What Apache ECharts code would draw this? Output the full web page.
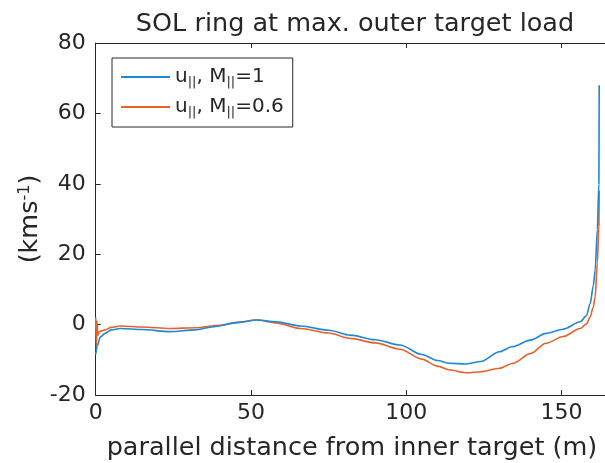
<!DOCTYPE html>
<html><head><meta charset="utf-8">
<script src="https://cdn.jsdelivr.net/npm/echarts@6/dist/echarts.min.js"></script>
<style>html,body{margin:0;padding:0;background:#fff;overflow:hidden}#c{width:605px;height:463px}</style>
</head><body><div id="c"></div>
<script>
const blueX = [0, 0.5, 1.5, 3, 5, 8, 15, 24, 32, 38, 45, 52, 58, 66, 75, 82, 90, 98, 105, 110, 114, 119, 124, 130, 134, 140, 145, 150.5, 156, 158, 159.2, 160.2, 160.8, 161.5, 162, 162.1];
const blueY = [-8.5, -6, -3.5, -2.5, -1.5, -1.1, -1.4, -2.0, -1.5, -0.6, 0.5, 1.3, 0.8, -0.4, -1.6, -3.0, -4.3, -5.8, -8.5, -10.2, -11.0, -11.2, -10.5, -7.7, -6.3, -4.4, -2.5, -1.3, 0.8, 2.5, 6, 11, 15.5, 27, 40, 68];
const orangeX = [0, 0.2, 0.4, 0.7, 1.2, 3, 5, 8, 15, 24, 32, 40, 46, 52, 58, 66, 75, 82, 90, 98, 105, 110, 114, 119.5, 124, 130, 134.4, 140, 145, 150.5, 156, 158, 159.2, 160.2, 160.8, 161.5, 162, 162.1];
const orangeY = [2, -7, 1, -3, -2, -1.5, -0.8, -0.4, -0.7, -1.1, -0.9, -0.2, 0.7, 1.3, 0.5, -1.1, -2.4, -3.9, -5.2, -7.0, -9.8, -11.8, -12.9, -13.7, -13.4, -12.4, -11.0, -8.2, -5.3, -3.4, -1.1, 0.2, 2.2, 5, 7.9, 17.5, 28, 38];
const seriesNames = ['u||, M||=1', 'u||, M||=0.6'];
const legendLabels = ['{n|u}{s|||}{n|, M}{s|||}{n|=1}', '{n|u}{s|||}{n|, M}{s|||}{n|=0.6}'];
const xTicks = [0, 50, 100, 150];
const yTicks = [-20, 0, 20, 40, 60, 80];

const zip = (xs, ys) => xs.map((x, i) => [x, ys[i]]);
const txt = '#262626';
const font = 'DejaVu Sans';
const chart = echarts.init(document.getElementById('c'), null, {renderer: 'canvas'});
chart.setOption({
  animation: false,
  textStyle: {fontFamily: font, color: txt},
  title: {
    text: 'SOL ring at max. outer target load',
    left: 350, top: 6, textAlign: 'center',
    textStyle: {fontFamily: font, fontSize: 25.5, fontWeight: 'normal', color: txt}
  },
  grid: {left: 95.7, top: 43, width: 512.5, height: 352, containLabel: false, outerBoundsMode: 'none'},
  legend: {
    orient: 'vertical', left: 112, top: 58,
    padding: [9, 9, 8, 9], itemGap: 8,
    borderColor: txt, borderWidth: 1, backgroundColor: '#fff',
    icon: 'rect', itemWidth: 49, itemHeight: 2,
    data: seriesNames,
    formatter: name => legendLabels[seriesNames.indexOf(name)],
    textStyle: {
      color: txt, fontFamily: font,
      rich: {
        n: {fontSize: 20, fontFamily: font, color: txt, lineHeight: 24},
        s: {fontSize: 13, fontFamily: font, color: txt, lineHeight: 24, verticalAlign: 'bottom', padding: [8, 0, 0, 0]}
      }
    }
  },
  xAxis: [{
    type: 'value', min: 0, max: 165, interval: 50,
    name: 'parallel distance from inner target (m)', nameLocation: 'middle', nameGap: 40,
    nameMoveOverlap: false,
    nameTextStyle: {fontFamily: font, fontSize: 25.5, color: txt},
    axisLine: {show: true, onZero: false, lineStyle: {color: txt, width: 1}},
    axisTick: {show: true, inside: true, length: 5, lineStyle: {color: txt}},
    axisLabel: {fontFamily: font, fontSize: 22, color: txt, margin: 7,
      formatter: v => xTicks.includes(v) ? String(v) : ''},
    splitLine: {show: false}
  }, {
    type: 'value', min: 0, max: 165, interval: 50, position: 'top',
    axisLine: {show: true, onZero: false, lineStyle: {color: txt, width: 1}},
    axisTick: {show: true, inside: true, length: 5, lineStyle: {color: txt}},
    axisLabel: {show: false}, splitLine: {show: false}
  }],
  yAxis: {
    type: 'value', min: -20, max: 80, interval: 20,
    name: '(kms{sup|-1})', nameLocation: 'middle', nameRotate: 90, nameGap: 51,
    nameMoveOverlap: false,
    nameTextStyle: {fontFamily: font, fontSize: 25.5, color: txt,
      rich: {sup: {fontSize: 16, fontFamily: font, color: txt, verticalAlign: 'top', padding: [0, 0, 12, 0]}}},
    axisLine: {show: true, onZero: false, lineStyle: {color: txt, width: 1}},
    axisTick: {show: true, inside: true, length: 5, lineStyle: {color: txt}},
    axisLabel: {fontFamily: font, fontSize: 22, color: txt, margin: 10,
      formatter: v => yTicks.includes(v) ? String(v) : ''},
    splitLine: {show: false}
  },
  series: [{
    name: seriesNames[0], type: 'line', data: zip(blueX, blueY),
    showSymbol: false, symbol: 'none', smooth: 0.3, smoothMonotone: 'x',
    lineStyle: {color: '#1f87d4', width: 1.6}, itemStyle: {color: '#1f87d4'}, z: 3
  }, {
    name: seriesNames[1], type: 'line', data: zip(orangeX, orangeY),
    showSymbol: false, symbol: 'none', smooth: 0.3, smoothMonotone: 'x',
    lineStyle: {color: '#e5622a', width: 1.6}, itemStyle: {color: '#e5622a'}, z: 2
  }]
});
</script></body></html>
